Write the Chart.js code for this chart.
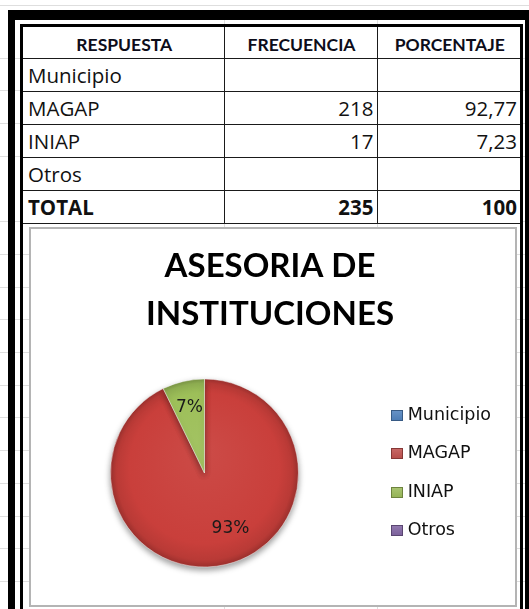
<!DOCTYPE html>
<html>
<head>
<meta charset="utf-8">
<script src="https://cdn.jsdelivr.net/npm/chart.js@4.4.1/dist/chart.umd.min.js"></script>
<style>
  html, body { margin:0; padding:0; width:529px; height:609px; overflow:hidden; position:relative; }
  body {
    background-color:#fff;
    background-image:
      linear-gradient(to right, transparent 224px, #dedede 224px, #dedede 225px, transparent 225px, transparent 377px, #dedede 377px, #dedede 378px, transparent 378px),
      repeating-linear-gradient(to bottom, transparent 0px, transparent 31.7px, #dedede 31.7px, #dedede 32.7px);
    background-position: 0 12px, 0 26px;
    background-size: 529px 700px, auto;
    background-repeat: no-repeat, repeat;
  }
  #frame { position:absolute; left:8px; top:10px; width:524px; height:700px; box-sizing:border-box;
           border-left:7px solid #000; border-top:10px solid #000; border-right:7px solid #000; }
  #sheet { position:absolute; left:20px; top:24px; width:503px; height:700px; box-sizing:border-box;
           border-left:3px solid #000; border-top:3px solid #000; border-right:3px solid #000; }
  #tbl { position:absolute; left:0; top:0; border-collapse:collapse; table-layout:fixed; width:497px; background:#fff; }
  #tbl td, #tbl th { padding:0 3px 0 5px; border-bottom:1px solid #1a1a1a; border-right:1px solid #1a1a1a;
           overflow:hidden; white-space:nowrap; vertical-align:bottom; color:#111; background:#fff; }
  #tbl td:last-child, #tbl th:last-child { border-right:none; }
  #tbl th { font-family:Lato, sans-serif; font-weight:bold; font-size:17.5px; line-height:1; padding-bottom:4px; text-align:center; color:#0d0d1a; }
  #tbl td { font-family:"Open Sans", sans-serif; font-size:20.5px; line-height:1; padding-bottom:5px; }
  #tbl td.num { text-align:right; padding-right:3px; }
  #tbl tr.total td { font-weight:bold; border-bottom:1px solid #1a1a1a; }
  #chartbox { position:absolute; left:29px; top:227px; width:488px; height:380px; box-sizing:border-box;
              border:2px solid #b4b4b4; background:#fff; }
  #c { position:absolute; left:0; top:0; }
</style>
</head>
<body>
<div id="frame"></div>
<div id="sheet">
  <table id="tbl">
    <colgroup><col style="width:201px"><col style="width:153px"><col style="width:143px"></colgroup>
    <thead></thead>
    <tbody></tbody>
  </table>
</div>
<div id="chartbox"><canvas id="c" width="484" height="376"></canvas></div>

<script>
// ---- data ----
const headers = ['RESPUESTA', 'FRECUENCIA', 'PORCENTAJE'];
const categories = ['Municipio', 'MAGAP', 'INIAP', 'Otros'];
const frequencies = [null, 218, 17, null];
const percentages = [null, 92.77, 7.23, null];
const totalLabel = 'TOTAL';
const totalFrequency = 235;
const totalPercentage = 100;
const chartTitle = ['ASESORIA DE', 'INSTITUCIONES'];
const legendColors = ['#4F81BD', '#C0504D', '#9BBB59', '#8064A2'];
const pieColors = ['#4F81BD', '#C93F3B', '#9DBF59', '#8064A2'];

// ---- table ----
const fmtPct = v => (v == null ? '' : (Number.isInteger(v) ? String(v) : v.toFixed(2).replace('.', ',')));
const thead = document.querySelector('#tbl thead');
const tbody = document.querySelector('#tbl tbody');
const hr = document.createElement('tr');
hr.style.height = '31px';
headers.forEach(h => { const th = document.createElement('th'); th.textContent = h; hr.appendChild(th); });
thead.appendChild(hr);
categories.forEach((cat, i) => {
  const tr = document.createElement('tr');
  tr.style.height = '33px';
  const a = document.createElement('td'); a.textContent = cat;
  const b = document.createElement('td'); b.className = 'num'; b.textContent = frequencies[i] == null ? '' : frequencies[i];
  const c = document.createElement('td'); c.className = 'num'; c.textContent = fmtPct(percentages[i]);
  tr.append(a, b, c); tbody.appendChild(tr);
});
const trT = document.createElement('tr');
trT.className = 'total'; trT.style.height = '33px';
[totalLabel, totalFrequency, totalPercentage].forEach((v, k) => {
  const td = document.createElement('td'); td.textContent = v; if (k > 0) td.className = 'num'; trT.appendChild(td);
});
tbody.appendChild(trT);

// ---- chart ----
function shade(hex, f) {
  const n = parseInt(hex.slice(1), 16);
  let r = (n >> 16) & 255, g = (n >> 8) & 255, b = n & 255;
  const m = v => Math.max(0, Math.min(255, Math.round(f >= 0 ? v + (255 - v) * f : v * (1 + f))));
  return `rgb(${m(r)},${m(g)},${m(b)})`;
}

const piePlugin = {
  id: 'pieLook',
  beforeDatasetsDraw(chart) {
    const ctx = chart.ctx;
    const meta = chart.getDatasetMeta(0);
    meta.data.forEach((arc, i) => {
      const g = ctx.createRadialGradient(arc.x, arc.y - arc.outerRadius * 0.25, 0, arc.x, arc.y, arc.outerRadius);
      const base = pieColors[i];
      g.addColorStop(0, shade(base, 0.06));
      g.addColorStop(0.8, base);
      g.addColorStop(0.94, shade(base, -0.08));
      g.addColorStop(1, shade(base, -0.22));
      arc.options.backgroundColor = g;
    });
    ctx.save();
    ctx.shadowColor = 'rgba(0,0,0,0.4)';
    ctx.shadowBlur = 6;
    ctx.shadowOffsetY = 3;
  },
  afterDatasetsDraw(chart, args, opts) {
    const ctx = chart.ctx;
    ctx.restore();
    const meta = chart.getDatasetMeta(0);
    const data = chart.data.datasets[0].data;
    const total = data.reduce((s, v) => s + (v || 0), 0);
    ctx.save();
    ctx.font = '17px "DejaVu Sans"';
    ctx.fillStyle = '#1a1a1a';
    ctx.textAlign = 'center';
    ctx.textBaseline = 'middle';
    meta.data.forEach((arc, i) => {
      const v = data[i];
      if (!v) return;
      const mid = (arc.startAngle + arc.endAngle) / 2;
      const r = arc.outerRadius * 0.71;
      const n = opts.nudge[i] || [0, 0];
      ctx.fillText(Math.round(v / total * 100) + '%', arc.x + Math.cos(mid) * r + n[0], arc.y + Math.sin(mid) * r + n[1]);
    });
    ctx.restore();
  },
  afterDraw(chart) {
    const ctx = chart.ctx;
    const lg = chart.legend;
    if (!lg || !lg.legendHitBoxes) return;
    lg.legendHitBoxes.forEach((hb, i) => {
      const w = 12, h = 11;
      const x = Math.round(hb.left), y = Math.round(hb.top + (hb.height - h) / 2);
      const base = legendColors[i];
      const g = ctx.createLinearGradient(x, y, x, y + h);
      g.addColorStop(0, shade(base, 0.15));
      g.addColorStop(1, shade(base, -0.05));
      ctx.fillStyle = g;
      ctx.fillRect(x, y, w, h);
      ctx.strokeStyle = shade(base, -0.3);
      ctx.lineWidth = 1;
      ctx.strokeRect(x + 0.5, y + 0.5, w - 1, h - 1);
    });
  }
};

new Chart(document.getElementById('c'), {
  type: 'pie',
  data: {
    labels: categories,
    datasets: [{
      data: frequencies.map(v => v == null ? 0 : v),
      backgroundColor: pieColors,
      borderColor: 'rgba(255,255,255,0.45)',
      borderWidth: 1,
      hoverOffset: 0,
      radius: 94
    }]
  },
  options: {
    responsive: false,
    animation: false,
    devicePixelRatio: 1,
    layout: { padding: { left: 8, right: 14, top: 0, bottom: 38 } },
    plugins: {
      title: {
        display: true,
        text: chartTitle,
        color: '#000',
        font: { family: 'Lato', weight: 'bold', size: 33, lineHeight: 1.47 },
        padding: { top: 13, bottom: 40 }
      },
      legend: {
        position: 'right',
        fullSize: false,
        labels: {
          boxWidth: 8,
          boxHeight: 10,
          padding: 21,
          color: '#111',
          font: { family: 'DejaVu Sans', size: 17.5 },
          generateLabels(chart) {
            const items = Chart.controllers.pie.overrides.plugins.legend.labels.generateLabels(chart);
            return items.map(it => Object.assign(it, { fillStyle: 'rgba(0,0,0,0)', strokeStyle: 'rgba(0,0,0,0)', lineWidth: 0, hidden: false }));
          }
        }
      },
      tooltip: { enabled: false },
      pieLook: { nudge: [null, [11, -9], [0, 0], null] }
    }
  },
  plugins: [piePlugin]
});
</script>
</body>
</html>
